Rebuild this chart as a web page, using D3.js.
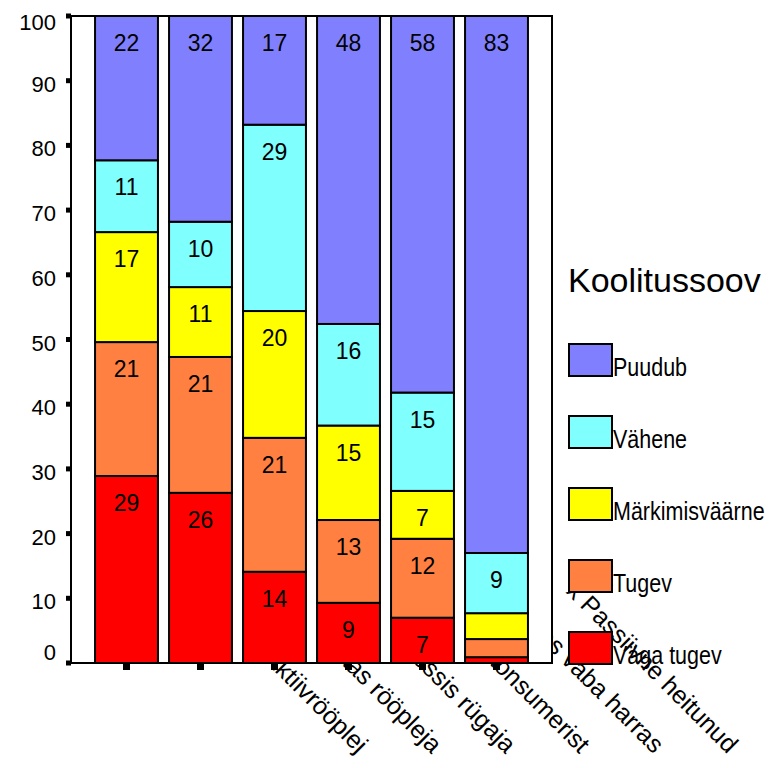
<!DOCTYPE html>
<html>
<head>
<meta charset="utf-8">
<script src="https://cdn.jsdelivr.net/npm/d3@7/dist/d3.min.js"></script>
<style>
  html, body { margin: 0; padding: 0; background: #fff; }
  svg { display: block; font-family: "Liberation Sans", Arial, sans-serif; }
</style>
</head>
<body>
<svg id="chart" width="772" height="768"></svg>
<script>
// ---- data ----
const categories = ["Aktiivrööplej", "Mõõdukas rööpleja", "Protsessis rügaja", "Konsumerist", "Passiivses vaba harras", "x Passiivne heitunud"];
const seriesNames = ["Väga tugev", "Tugev", "Märkimisväärne", "Vähene", "Puudub"];
const vagaTugev      = [28.9, 26.3, 14.1, 9.3, 7.0, 0.9];
const tugev          = [20.7, 21.0, 20.7, 12.8, 12.2, 2.8];
const markimisvaarne = [17.0, 10.8, 19.6, 14.6, 7.4, 4.0];
const vahene         = [11.1, 10.1, 28.8, 15.7, 15.2, 9.3];
const puudub         = [22.3, 31.8, 16.8, 47.6, 58.2, 83.0];
const yTicks = [0, 10, 20, 30, 40, 50, 60, 70, 80, 90, 100];
const legendTitle = "Koolitussoov";

// ---- styles ----
const colors = {"Väga tugev": "#ff0000", "Tugev": "#ff8040", "Märkimisväärne": "#ffff00", "Vähene": "#80ffff", "Puudub": "#8080ff"};
const plot = {x0: 71, x1: 552, y0: 16, y1: 663};

const svg = d3.select("#chart");
const seriesValues = [vagaTugev, tugev, markimisvaarne, vahene, puudub];
const rows = categories.map((c, i) => {
  const r = {cat: c};
  seriesNames.forEach((s, k) => r[s] = seriesValues[k][i]);
  return r;
});
const stack = d3.stack().keys(seriesNames)(rows);

const x = d3.scaleBand().domain(categories).range([plot.x0, plot.x1]).paddingInner(0.15).paddingOuter(0.325);
const y = d3.scaleLinear().domain([0, 100]).range([plot.y1, plot.y0]);

// ---- x labels (drawn first, partly covered by plot area) ----
const lblOff = 231;
svg.append("g").selectAll("text").data(categories).join("text")
  .attr("transform", d => {
    const cx = x(d) + x.bandwidth() / 2;
    return `translate(${cx + lblOff},${523.5 + lblOff}) rotate(45)`;
  })
  .attr("text-anchor", "end")
  .attr("font-size", 25)
  .attr("fill", "#000")
  .text(d => d);

// ---- plot area ----
svg.append("rect")
  .attr("x", plot.x0).attr("y", plot.y0)
  .attr("width", plot.x1 - plot.x0).attr("height", plot.y1 - plot.y0)
  .attr("fill", "#fff").attr("stroke", "#000").attr("stroke-width", 2);

// ---- bars ----
const layers = svg.append("g").selectAll("g").data(stack).join("g")
  .attr("fill", d => colors[d.key]);
layers.selectAll("rect").data(d => d).join("rect")
  .attr("x", d => x(d.data.cat))
  .attr("width", x.bandwidth())
  .attr("y", d => y(d[1]))
  .attr("height", d => y(d[0]) - y(d[1]))
  .attr("stroke", "#000").attr("stroke-width", 2);

// ---- value labels ----
const labelG = svg.append("g");
stack.forEach(layer => {
  layer.forEach(d => {
    const v = d[1] - d[0];
    if (Math.round(v) < 5) return;
    labelG.append("text")
      .attr("x", x(d.data.cat) + x.bandwidth() / 2)
      .attr("y", y(d[1]) + 35)
      .attr("text-anchor", "middle")
      .attr("font-size", 23)
      .attr("fill", "#000")
      .text(Math.round(v));
  });
});

// ---- frame re-draw ----
svg.append("rect")
  .attr("x", plot.x0).attr("y", plot.y0)
  .attr("width", plot.x1 - plot.x0).attr("height", plot.y1 - plot.y0)
  .attr("fill", "none").attr("stroke", "#000").attr("stroke-width", 2);

// ---- y axis ----
const yg = svg.append("g");
yg.selectAll("rect").data(yTicks).join("rect")
  .attr("x", plot.x0 - 5).attr("y", d => y(d) - 2.5)
  .attr("width", 5).attr("height", 5).attr("fill", "#000");
yg.selectAll("text").data(yTicks).join("text")
  .attr("x", 56)
  .attr("y", d => Math.max(30, Math.min(660, y(d) + 11)))
  .attr("text-anchor", "end")
  .attr("font-size", 22)
  .attr("fill", "#000")
  .text(d => d);

// ---- x ticks ----
svg.append("g").selectAll("rect").data(categories).join("rect")
  .attr("x", d => x(d) + x.bandwidth() / 2 - 3.5)
  .attr("y", plot.y1 + 1)
  .attr("width", 7).attr("height", 6).attr("fill", "#000");

// ---- legend ----
const lg = svg.append("g");
lg.append("text").attr("x", 568).attr("y", 292).attr("font-size", 34).attr("fill", "#000").text(legendTitle);
const legendOrder = seriesNames.slice().reverse();
const items = lg.selectAll("g.item").data(legendOrder).join("g").attr("class", "item")
  .attr("transform", (d, i) => `translate(569,${344 + i * 72})`);
items.append("rect").attr("width", 43).attr("height", 32)
  .attr("fill", d => colors[d]).attr("stroke", "#000").attr("stroke-width", 2);
items.append("text")
  .attr("transform", "translate(44,32) scale(0.86,1)")
  .attr("font-size", 25).attr("fill", "#000")
  .text(d => d);
</script>
</body>
</html>
